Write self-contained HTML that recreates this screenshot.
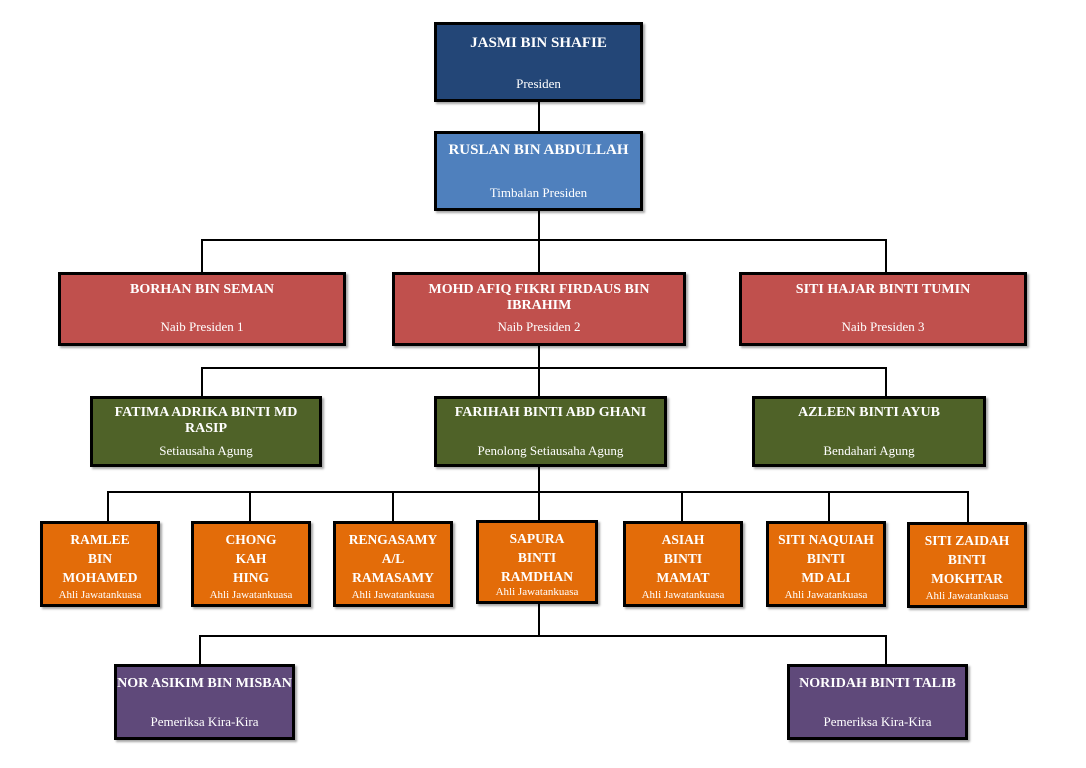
<!DOCTYPE html>
<html><head><style>
body{margin:0;width:1086px;height:768px;background:#fff;position:relative;overflow:hidden;font-family:"Liberation Serif",serif;}
.b{position:absolute;box-sizing:border-box;border:3px solid #000;color:#fff;text-align:center;box-shadow:2px 2px 2px rgba(0,0,0,.35);}
.n{font-weight:bold;font-size:14px;position:absolute;left:0;right:0;}
.r{font-size:13px;position:absolute;left:0;right:0;}
.o .n{font-size:13.5px;line-height:19px;top:6px}
.o .r{font-size:11px;bottom:3px}
.l{position:absolute;background:#000;}
</style></head><body>
<!-- lines -->
<div class="l" style="left:538px;top:100px;width:2px;height:32px"></div>
<div class="l" style="left:538px;top:209px;width:2px;height:32px"></div>
<div class="l" style="left:201px;top:239px;width:686px;height:2px"></div>
<div class="l" style="left:201px;top:239px;width:2px;height:34px"></div>
<div class="l" style="left:538px;top:239px;width:2px;height:34px"></div>
<div class="l" style="left:885px;top:239px;width:2px;height:34px"></div>
<div class="l" style="left:538px;top:344px;width:2px;height:53px"></div>
<div class="l" style="left:201px;top:367px;width:686px;height:2px"></div>
<div class="l" style="left:201px;top:367px;width:2px;height:30px"></div>
<div class="l" style="left:885px;top:367px;width:2px;height:30px"></div>
<div class="l" style="left:538px;top:465px;width:2px;height:56px"></div>
<div class="l" style="left:107px;top:491px;width:862px;height:2px"></div>
<div class="l" style="left:107px;top:491px;width:2px;height:31px"></div>
<div class="l" style="left:249px;top:491px;width:2px;height:31px"></div>
<div class="l" style="left:392px;top:491px;width:2px;height:31px"></div>
<div class="l" style="left:681px;top:491px;width:2px;height:31px"></div>
<div class="l" style="left:828px;top:491px;width:2px;height:31px"></div>
<div class="l" style="left:967px;top:491px;width:2px;height:31px"></div>
<div class="l" style="left:538px;top:602px;width:2px;height:35px"></div>
<div class="l" style="left:199px;top:635px;width:688px;height:2px"></div>
<div class="l" style="left:199px;top:635px;width:2px;height:30px"></div>
<div class="l" style="left:885px;top:635px;width:2px;height:30px"></div>

<div class="b" style="left:434px;top:22px;width:209px;height:80px;background:#234677"><div class="n" style="top:10px;font-size:15px">JASMI BIN SHAFIE</div><div class="r" style="top:51px">Presiden</div></div>
<div class="b" style="left:434px;top:131px;width:209px;height:80px;background:#4f80bd"><div class="n" style="top:8px;font-size:15px">RUSLAN BIN ABDULLAH</div><div class="r" style="top:51px">Timbalan Presiden</div></div>

<div class="b" style="left:58px;top:272px;width:288px;height:74px;background:#c0504d"><div class="n" style="top:7px">BORHAN BIN SEMAN</div><div class="r" style="top:44px">Naib Presiden 1</div></div>
<div class="b" style="left:392px;top:272px;width:294px;height:74px;background:#c0504d"><div class="n" style="top:7px">MOHD AFIQ FIKRI FIRDAUS BIN IBRAHIM</div><div class="r" style="top:44px">Naib Presiden 2</div></div>
<div class="b" style="left:739px;top:272px;width:288px;height:74px;background:#c0504d"><div class="n" style="top:7px">SITI HAJAR BINTI TUMIN</div><div class="r" style="top:44px">Naib Presiden 3</div></div>

<div class="b" style="left:90px;top:396px;width:232px;height:71px;background:#4f6228"><div class="n" style="top:6px">FATIMA ADRIKA BINTI MD RASIP</div><div class="r" style="top:44px">Setiausaha Agung</div></div>
<div class="b" style="left:434px;top:396px;width:233px;height:71px;background:#4f6228"><div class="n" style="top:6px">FARIHAH BINTI ABD GHANI</div><div class="r" style="top:44px">Penolong Setiausaha Agung</div></div>
<div class="b" style="left:752px;top:396px;width:234px;height:71px;background:#4f6228"><div class="n" style="top:6px">AZLEEN BINTI AYUB</div><div class="r" style="top:44px">Bendahari Agung</div></div>

<div class="b o" style="left:40px;top:521px;width:120px;height:86px;background:#e36c09"><div class="n">RAMLEE<br>BIN<br>MOHAMED</div><div class="r">Ahli Jawatankuasa</div></div>
<div class="b o" style="left:191px;top:521px;width:120px;height:86px;background:#e36c09"><div class="n">CHONG<br>KAH<br>HING</div><div class="r">Ahli Jawatankuasa</div></div>
<div class="b o" style="left:333px;top:521px;width:120px;height:86px;background:#e36c09"><div class="n">RENGASAMY<br>A/L<br>RAMASAMY</div><div class="r">Ahli Jawatankuasa</div></div>
<div class="b o" style="left:476px;top:520px;width:122px;height:84px;background:#e36c09"><div class="n">SAPURA<br>BINTI<br>RAMDHAN</div><div class="r">Ahli Jawatankuasa</div></div>
<div class="b o" style="left:623px;top:521px;width:120px;height:86px;background:#e36c09"><div class="n">ASIAH<br>BINTI<br>MAMAT</div><div class="r">Ahli Jawatankuasa</div></div>
<div class="b o" style="left:766px;top:521px;width:120px;height:86px;background:#e36c09"><div class="n">SITI NAQUIAH<br>BINTI<br>MD ALI</div><div class="r">Ahli Jawatankuasa</div></div>
<div class="b o" style="left:907px;top:522px;width:120px;height:86px;background:#e36c09"><div class="n">SITI ZAIDAH<br>BINTI<br>MOKHTAR</div><div class="r">Ahli Jawatankuasa</div></div>

<div class="b" style="left:114px;top:664px;width:181px;height:76px;background:#5f497a"><div class="n" style="top:9px">NOR ASIKIM BIN MISBAN</div><div class="r" style="top:47px">Pemeriksa Kira-Kira</div></div>
<div class="b" style="left:787px;top:664px;width:181px;height:76px;background:#5f497a"><div class="n" style="top:9px">NORIDAH BINTI TALIB</div><div class="r" style="top:47px">Pemeriksa Kira-Kira</div></div>
</body></html>
